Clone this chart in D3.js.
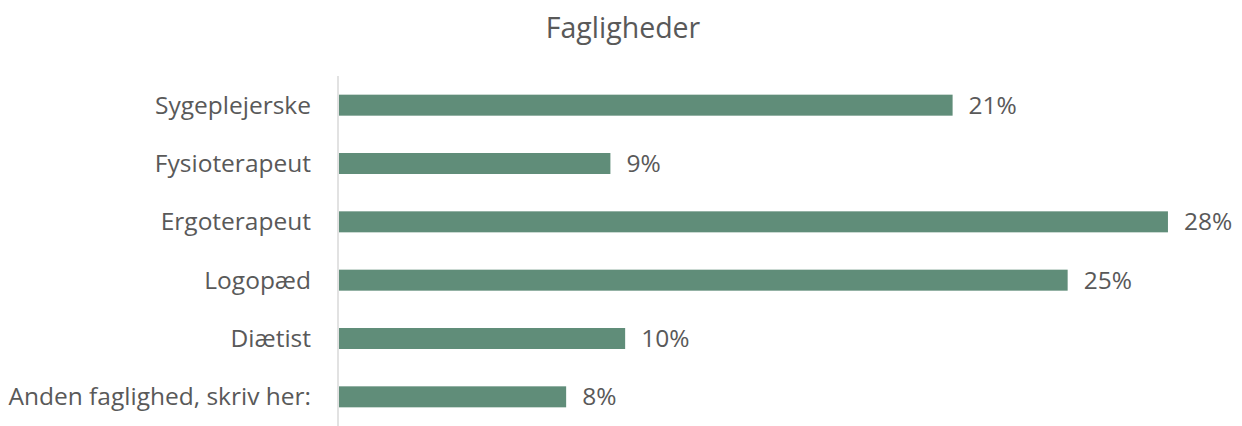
<!DOCTYPE html>
<html lang="da">
<head>
<meta charset="utf-8">
<title>Fagligheder</title>
<script src="https://cdn.jsdelivr.net/npm/d3@7/dist/d3.min.js"></script>
<style>
  body { margin: 0; background: #fff; }
  text { font-family: "Open Sans", "Noto Sans", sans-serif; fill: #595959; }
</style>
</head>
<body>
<script>
// data
var categories = ["Sygeplejerske", "Fysioterapeut", "Ergoterapeut", "Logopæd", "Diætist", "Anden faglighed, skriv her:"];
var values = [0.208, 0.092, 0.281, 0.247, 0.097, 0.077];
var xDomain = [0, 0.3];

var w = 1242, h = 426;
// plot area (note: "top" is reserved on window, so use plotTop)
var plotLeft = 339, plotRight = 1224, plotTop = 76, plotBottom = 426;

var svg = d3.select("body").append("svg")
  .attr("width", w)
  .attr("height", h);

var x = d3.scaleLinear().domain(xDomain).range([plotLeft, plotRight]);
var y = d3.scaleBand().domain(categories).range([plotTop, plotBottom]).paddingInner(0.64).paddingOuter(0.32);

svg.append("text")
  .attr("x", 623)
  .attr("y", 38)
  .attr("text-anchor", "middle")
  .attr("font-size", "28.5px")
  .text("Fagligheder");

// category axis line
svg.append("line")
  .attr("x1", plotLeft - 1).attr("x2", plotLeft - 1)
  .attr("y1", plotTop).attr("y2", plotBottom)
  .attr("stroke", "#d9d9d9")
  .attr("stroke-width", 1.5);

svg.selectAll("rect.bar")
  .data(values)
  .enter()
  .append("rect")
  .attr("class", "bar")
  .attr("x", x(0))
  .attr("y", function(d, i) { return y(categories[i]); })
  .attr("width", function(d) { return x(d) - x(0); })
  .attr("height", y.bandwidth())
  .attr("fill", "#608d79");

svg.selectAll("text.cat")
  .data(categories)
  .enter()
  .append("text")
  .attr("class", "cat")
  .attr("x", 311)
  .attr("y", function(d) { return y(d) + y.bandwidth() / 2; })
  .attr("dy", "0.35em")
  .attr("text-anchor", "end")
  .attr("font-size", "24.5px")
  .text(function(d) { return d; });

svg.selectAll("text.val")
  .data(values)
  .enter()
  .append("text")
  .attr("class", "val")
  .attr("x", function(d) { return x(d) + 16; })
  .attr("y", function(d, i) { return y(categories[i]) + y.bandwidth() / 2; })
  .attr("dy", "0.35em")
  .attr("font-size", "24.5px")
  .text(function(d) { return d3.format(".0%")(d); });
</script>
</body>
</html>
